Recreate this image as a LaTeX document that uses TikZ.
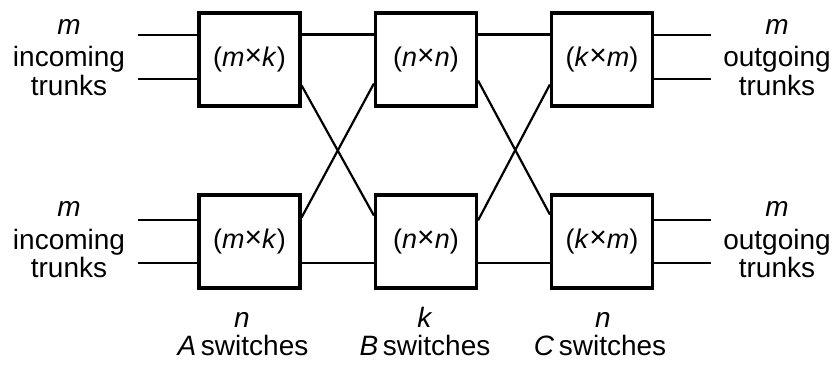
\documentclass[tikz,border=0pt]{standalone}
\usepackage{fontspec}
\setmainfont{Liberation Sans}
\usetikzlibrary{calc}
\newcommand{\tms}{\raisebox{0.5pt}{\fontsize{30}{30}\selectfont×}}
\begin{document}
\begin{tikzpicture}[x=1pt,y=-1pt,
  swbox/.style={draw, line width=3.2pt, minimum width=101pt, minimum height=93pt, inner sep=0pt, font=\fontsize{27}{30}\selectfont},
  trunk/.style={line width=2.2pt},
  lbl/.style={anchor=base, inner sep=0pt, font=\fontsize{28}{32}\selectfont}]
\useasboundingbox (0,0) rectangle (835,366);
% boxes
\node[swbox] (A1) at (249.5,59.5) {(\textit{m}\tms\textit{k})};
\node[swbox] (B1) at (426,59.5) {(\textit{n}\tms\textit{n})};
\node[swbox] (C1) at (602,59.5) {(\textit{k}\tms\textit{m})};
\node[swbox] (A2) at (249.5,241.5) {(\textit{m}\tms\textit{k})};
\node[swbox] (B2) at (426,241.5) {(\textit{n}\tms\textit{n})};
\node[swbox] (C2) at (602,241.5) {(\textit{k}\tms\textit{m})};
% free ends
\coordinate (i1a) at (138,35);
\coordinate (i1b) at (138,79);
\coordinate (i2a) at (138,220);
\coordinate (i2b) at (138,263);
\coordinate (o1a) at (711,35);
\coordinate (o1b) at (711,79);
\coordinate (o2a) at (711,220);
\coordinate (o2b) at (711,263);
% inputs
\draw[trunk] (i1a) -- (i1a -| A1.west);
\draw[trunk] (i1b) -- (i1b -| A1.west);
\draw[trunk] (i2a) -- (i2a -| A2.west);
\draw[trunk] (i2b) -- (i2b -| A2.west);
% outputs
\draw[trunk] (o1a -| C1.east) -- (o1a);
\draw[trunk] (o1b -| C1.east) -- (o1b);
\draw[trunk] (o2a -| C2.east) -- (o2a);
\draw[trunk] (o2b -| C2.east) -- (o2b);
% A-B
\draw[trunk] ($(A1.north east)!0.24!(A1.south east)$) -- ($(B1.north west)!0.24!(B1.south west)$);
\draw[trunk] ($(A1.north east)!0.77!(A1.south east)$) -- ($(B2.north west)!0.23!(B2.south west)$);
\draw[trunk] ($(A2.north east)!0.25!(A2.south east)$) -- ($(B1.north west)!0.75!(B1.south west)$);
\draw[trunk] ($(A2.north east)!0.72!(A2.south east)$) -- ($(B2.north west)!0.72!(B2.south west)$);
% B-C
\draw[trunk] ($(B1.north east)!0.24!(B1.south east)$) -- ($(C1.north west)!0.24!(C1.south west)$);
\draw[trunk] ($(B1.north east)!0.72!(B1.south east)$) -- ($(C2.north west)!0.22!(C2.south west)$);
\draw[trunk] ($(B2.north east)!0.28!(B2.south east)$) -- ($(C1.north west)!0.76!(C1.south west)$);
\draw[trunk] ($(B2.north east)!0.72!(B2.south east)$) -- ($(C2.north west)!0.72!(C2.south west)$);
% left labels
\node[lbl] (lm1) at (69,35) {\textit{m}};
\node[lbl] (li1) at (69,67) {incoming};
\node[lbl] (lt1) at (69,96) {trunks};
\node[lbl] (lm2) at (69,217) {\textit{m}};
\node[lbl] (li2) at (69,249) {incoming};
\node[lbl] (lt2) at (69,277) {trunks};
% right labels
\node[lbl] (rm1) at (777,35) {\textit{m}};
\node[lbl] (ro1) at (777,67) {outgoing};
\node[lbl] (rt1) at (777,96) {trunks};
\node[lbl] (rm2) at (777,217) {\textit{m}};
\node[lbl] (ro2) at (777,249) {outgoing};
\node[lbl] (rt2) at (777,277) {trunks};
% bottom labels
\node[lbl] (na) at (242,327) {\textit{n}};
\node[lbl] (sa) at (243,355) {\textit{A}\,switches};
\node[lbl] (nb) at (425,327) {\textit{k}};
\node[lbl] (sb) at (425,355) {\textit{B}\,switches};
\node[lbl] (nc) at (603,327) {\textit{n}};
\node[lbl] (sc) at (600,355) {\textit{C}\,switches};
\end{tikzpicture}
\end{document}
